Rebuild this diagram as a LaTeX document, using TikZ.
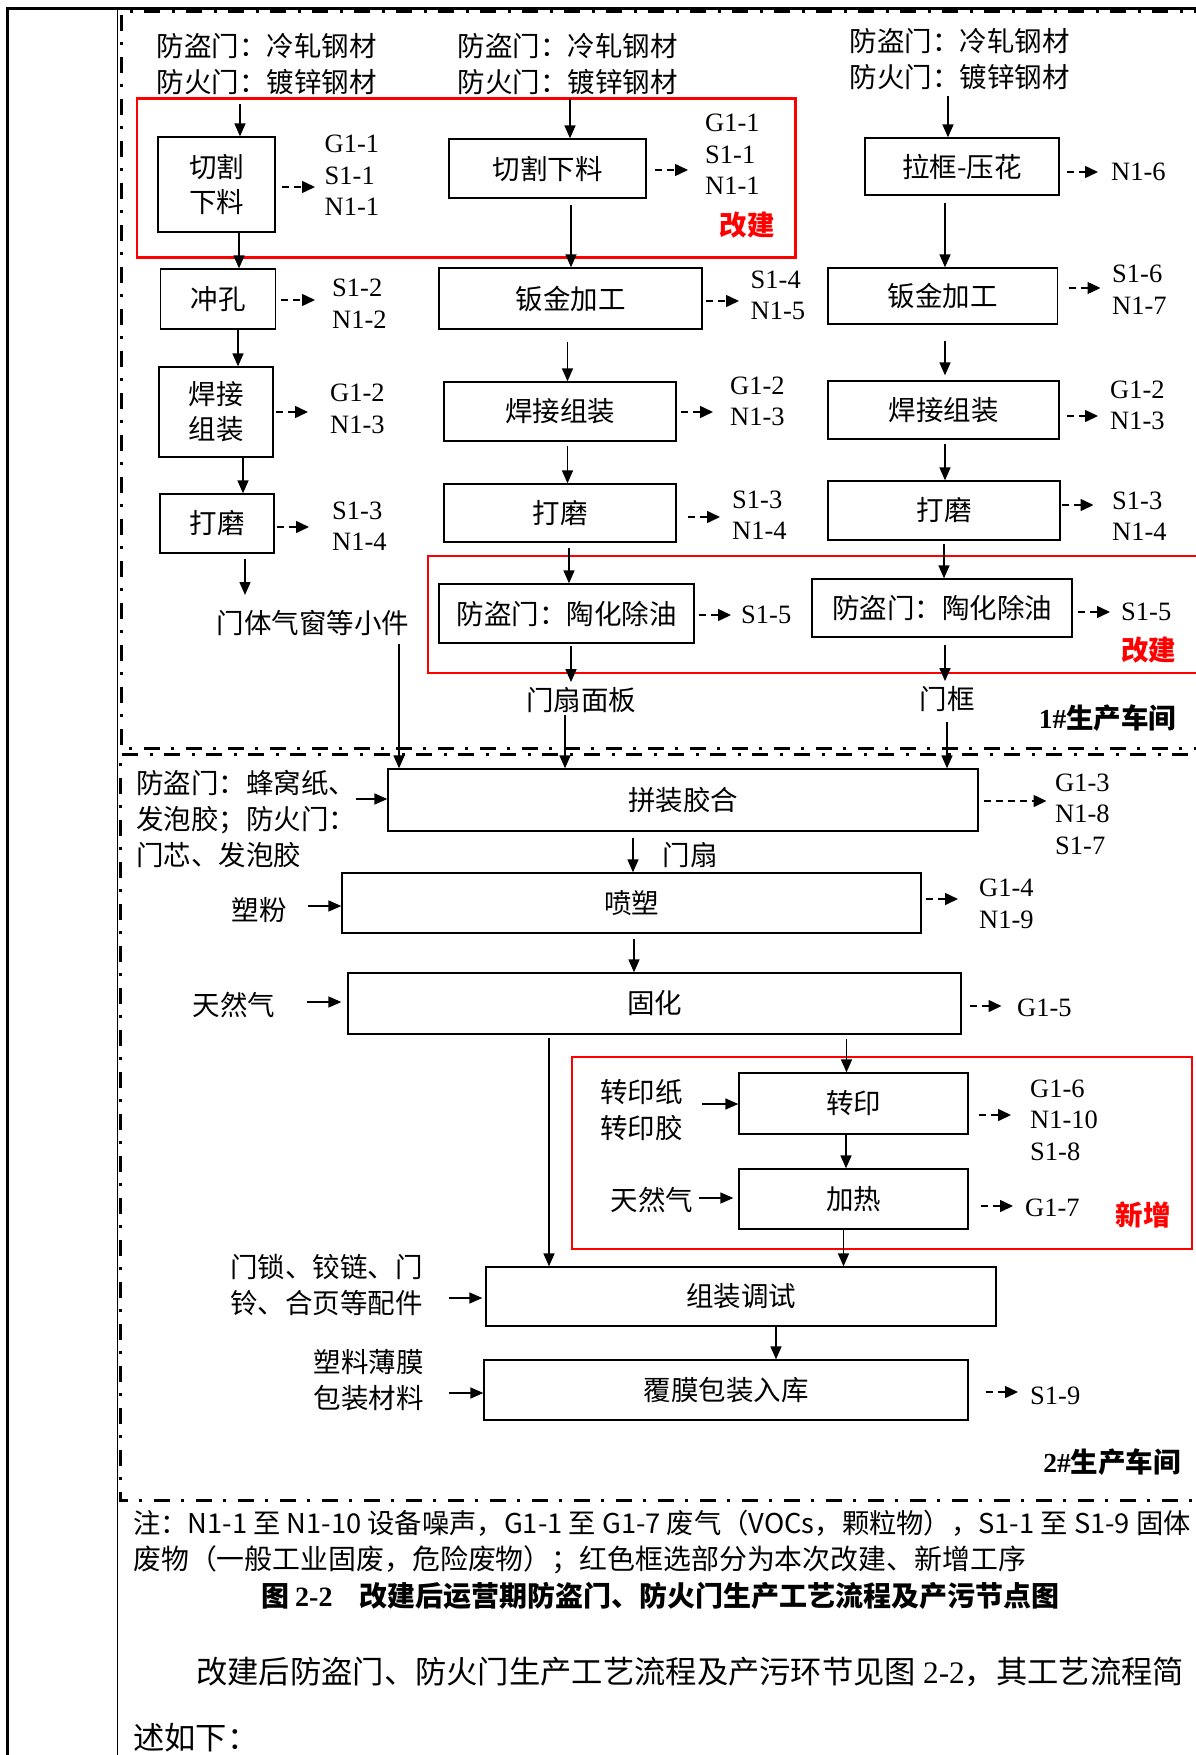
\documentclass[tikz,border=0pt]{standalone}
\usepackage{fontspec}
\setmainfont{Liberation Serif}
\newfontfamily\cjk{Noto Sans CJK SC}
\usetikzlibrary{arrows.meta}
\tikzset{
 box/.style={draw, line width=1.3pt, rectangle, inner sep=0pt, font=\cjk\fontsize{27.5}{35}\selectfont, align=center},
 arr/.style={line width=1.5pt, -{Triangle[length=13pt,width=11pt]}},
 darr/.style={line width=1.5pt, dash pattern=on 7pt off 5pt, -{Triangle[length=13pt,width=12pt]}},
 zh/.style={font=\cjk\fontsize{27.5}{36}\selectfont, inner sep=0pt, align=left},
 lab/.style={font=\fontsize{26.5}{31.5}\selectfont, inner sep=0pt, align=left, anchor=west},
 redbox/.style={draw=red, line width=2.5pt},
 redlab/.style={font=\cjk\bfseries\fontsize{27.5}{33}\selectfont, text=red, inner sep=0pt},
 ws/.style={line width=3pt, dash pattern=on 16pt off 11pt on 3pt off 12pt},
}
\begin{document}
\begin{tikzpicture}[x=1pt,y=-1pt]
\useasboundingbox (0,0) rectangle (1195,1755);
% outer table lines
\draw[line width=3pt] (6,9) -- (1200,9);
\draw[line width=2.5pt] (7.5,9) -- (7.5,1760);
\draw[line width=1.5pt] (117.5,9) -- (117.5,1760);
% workshop frames
\draw[ws] (1210,11.5) -- (121.5,11.5) -- (121.5,748.3) -- (1210,748.3);
\draw[ws, dash phase=20pt] (1210,754.3) -- (120,754.3) -- (120,1500) -- (1210,1500);
% red boxes
\draw[redbox] (137,98.3) rectangle (795.6,257.7);
\draw[redbox] (428,556) rectangle (1210,673);
\draw[redbox] (572,1057) rectangle (1192,1249);
\node[redlab] (r1) at (747,225) {改建};
\node[redlab] (r2) at (1148.5,650) {改建};
\node[redlab] (r3) at (1143,1215) {新增};
% top materials
\node[zh] (t1) at (266.5,64) {防盗门：冷轧钢材\\防火门：镀锌钢材};
\node[zh] (t2) at (567.5,64) {防盗门：冷轧钢材\\防火门：镀锌钢材};
\node[zh] (t3) at (959.5,59.5) {防盗门：冷轧钢材\\防火门：镀锌钢材};
% column 1
\node[box, minimum width=117pt, minimum height=95pt] (c1a) at (216.5,184.5) {切割\\下料};
\node[box, minimum width=114.5pt, minimum height=60pt] (c1b) at (218,299) {冲孔};
\node[box, minimum width=114pt, minimum height=90pt] (c1c) at (216,412) {焊接\\组装};
\node[box, minimum width=114pt, minimum height=59pt] (c1d) at (217,523.5) {打磨};
\node[zh] (l1) at (313,623) {门体气窗等小件};
\coordinate (p1) at (245,595);
% column 2
\node[box, minimum width=197pt, minimum height=59pt] (c2a) at (547.5,168.5) {切割下料};
\node[box, minimum width=263pt, minimum height=61pt] (c2b) at (570.5,298.5) {钣金加工};
\node[box, minimum width=232pt, minimum height=59pt] (c2c) at (560,411.5) {焊接组装};
\node[box, minimum width=232pt, minimum height=58pt] (c2d) at (560,513) {打磨};
\node[box, minimum width=255pt, minimum height=59pt] (c2e) at (566.5,613.5) {防盗门：陶化除油};
\node[zh] (l2) at (581,700) {门扇面板};
% column 3
\node[box, minimum width=194pt, minimum height=57pt] (c3a) at (962,166.5) {拉框-压花};
\node[box, minimum width=229.5pt, minimum height=56pt] (c3b) at (942.75,296) {钣金加工};
\node[box, minimum width=231pt, minimum height=58pt] (c3c) at (943.5,410) {焊接组装};
\node[box, minimum width=232pt, minimum height=59pt] (c3d) at (944,510.5) {打磨};
\node[box, minimum width=260pt, minimum height=58pt] (c3e) at (942,608) {防盗门：陶化除油};
\node[zh] (l3) at (947,699) {门框};
\node[font=\fontsize{27.5}{33}\selectfont, inner sep=0pt] (ws1) at (1107.5,718) {\bfseries 1\#{\cjk\bfseries 生产车间}};
% workshop 2
\node[box, minimum width=590pt, minimum height=62pt] (w2a) at (683,800) {拼装胶合};
\node[box, minimum width=579pt, minimum height=60pt] (w2b) at (631.5,903) {喷塑};
\node[box, minimum width=613pt, minimum height=61pt] (w2c) at (654.5,1003.5) {固化};
\node[box, minimum width=229pt, minimum height=61pt] (w2d) at (853.5,1103.5) {转印};
\node[box, minimum width=229pt, minimum height=60pt] (w2e) at (853.5,1199) {加热};
\node[box, minimum width=510pt, minimum height=59pt] (w2f) at (741,1296.5) {组装调试};
\node[box, minimum width=484pt, minimum height=60pt] (w2g) at (726,1390) {覆膜包装入库};
\node[zh] (l4) at (690,855) {门扇};
\node[font=\fontsize{27.5}{33}\selectfont, inner sep=0pt] (ws2) at (1112,1462) {\bfseries 2\#{\cjk\bfseries 生产车间}};
% inputs
\node[zh, anchor=west] (i1) at (136,819) {防盗门：蜂窝纸、\\发泡胶；防火门：\\门芯、发泡胶};
\node[zh] (i2) at (259,910) {塑粉};
\node[zh] (i3) at (234,1005) {天然气};
\node[zh, anchor=west] (i4) at (600,1110) {转印纸\\转印胶};
\node[zh] (i5) at (652,1200) {天然气};
\node[zh, anchor=east, align=right] (i6) at (423,1285) {门锁、铰链、门\\铃、合页等配件};
\node[zh, anchor=east, align=right] (i7) at (424,1380.5) {塑料薄膜\\包装材料};
% outputs
\node[lab] (o1a) at (324.5,175.5) {G1-1\\S1-1\\N1-1};
\node[lab] (o1b) at (332,303.5) {S1-2\\N1-2};
\node[lab] (o1c) at (330,409) {G1-2\\N1-3};
\node[lab] (o1d) at (332,526) {S1-3\\N1-4};
\node[lab] (o2a) at (705,154.5) {G1-1\\S1-1\\N1-1};
\node[lab] (o2b) at (750.5,295.5) {S1-4\\N1-5};
\node[lab] (o2c) at (730,401.5) {G1-2\\N1-3};
\node[lab] (o2d) at (732,515) {S1-3\\N1-4};
\node[lab] (o2e) at (741,615) {S1-5};
\node[lab] (o3a) at (1111,172) {N1-6};
\node[lab] (o3b) at (1112,289.5) {S1-6\\N1-7};
\node[lab] (o3c) at (1110,405.5) {G1-2\\N1-3};
\node[lab] (o3d) at (1112,516) {S1-3\\N1-4};
\node[lab] (o3e) at (1121,612) {S1-5};
\node[lab] (o4a) at (1055,814) {G1-3\\N1-8\\S1-7};
\node[lab] (o4b) at (979,904) {G1-4\\N1-9};
\node[lab] (o4c) at (1017,1008) {G1-5};
\node[lab] (o4d) at (1030,1120) {G1-6\\N1-10\\S1-8};
\node[lab] (o4e) at (1025,1208) {G1-7};
\node[lab] (o4f) at (1030,1396) {S1-9};
% vertical arrows column 1
\draw[arr, shorten <=9pt] (t1.south -| 240,0) -- (c1a.north -| 240,0);
\draw[arr] (c1a.south -| 239,0) -- (c1b.north -| 239,0);
\draw[arr] (c1b.south -| 238,0) -- (c1c.north -| 238,0);
\draw[arr] (c1c.south -| 243,0) -- (c1d.north -| 243,0);
\draw[arr, shorten <=5pt] (c1d.south -| 245,0) -- (p1);
\draw[arr, shorten <=8pt] (l1.south -| 399,0) -- (w2a.north -| 399,0);
% column 2
\draw[arr, shorten <=4pt] (t2.south -| 570,0) -- (c2a.north -| 570,0);
\draw[arr, shorten <=6pt] (c2a.south -| 571,0) -- (c2b.north -| 571,0);
\draw[arr, shorten <=12pt] (c2b.south -| 567.5,0) -- (c2c.north -| 567.5,0);
\draw[arr, shorten <=4pt] (c2c.south -| 567.5,0) -- (c2d.north -| 567.5,0);
\draw[arr, shorten <=5pt] (c2d.south -| 569,0) -- (c2e.north -| 569,0);
\draw[arr, shorten <=2pt, shorten >=5pt] (c2e.south -| 571,0) -- (l2.north -| 571,0);
\draw[arr, shorten <=2pt] (l2.south -| 565,0) -- (w2a.north -| 565,0);
% column 3
\draw[arr, shorten <=6pt] (t3.south -| 948,0) -- (c3a.north -| 948,0);
\draw[arr, shorten <=7pt] (c3a.south -| 945,0) -- (c3b.north -| 945,0);
\draw[arr, shorten <=16pt, shorten >=5pt] (c3b.south -| 945,0) -- (c3c.north -| 945,0);
\draw[arr, shorten <=4pt] (c3c.south -| 945,0) -- (c3d.north -| 945,0);
\draw[arr, shorten <=3pt] (c3d.south -| 944,0) -- (c3e.north -| 944,0);
\draw[arr, shorten <=7pt, shorten >=5pt] (c3e.south -| 945,0) -- (l3.north -| 945,0);
\draw[arr, shorten <=10pt] (l3.south -| 947,0) -- (w2a.north -| 947,0);
% workshop 2 vertical
\draw[arr, shorten <=6pt] (w2a.south -| 633,0) -- (w2b.north -| 633,0);
\draw[arr, shorten <=5pt] (w2b.south -| 634,0) -- (w2c.north -| 634,0);
\draw[arr, shorten <=4pt] (w2c.south -| 846.5,0) -- (w2d.north -| 846.5,0);
\draw[arr, shorten <=3pt] (w2c.south -| 549,0) -- (w2f.north -| 549,0);
\draw[arr] (w2d.south -| 846,0) -- (w2e.north -| 846,0);
\draw[arr] (w2e.south -| 843.5,0) -- (w2f.north -| 843.5,0);
\draw[arr] (w2f.south -| 776,0) -- (w2g.north -| 776,0);
% input arrows
\draw[arr] (i1.east |- 0,799) -- (w2a.west |- 0,799);
\draw[arr, shorten <=21.5pt] (i2.east |- 0,906) -- (w2b.west |- 0,906);
\draw[arr, shorten <=32pt, shorten >=6pt] (i3.east |- 0,1002) -- (w2c.west |- 0,1002);
\draw[arr, shorten <=19pt] (i4.east |- 0,1104) -- (w2d.west |- 0,1104);
\draw[arr, shorten <=6pt, shorten >=5pt] (i5.east |- 0,1198) -- (w2e.west |- 0,1198);
\draw[arr, shorten <=25.5pt, shorten >=3pt] (i6.east |- 0,1298) -- (w2f.west |- 0,1298);
\draw[arr, shorten <=24.5pt] (i7.east |- 0,1393) -- (w2g.west |- 0,1393);
% dashed output arrows
\draw[darr, shorten <=6pt, shorten >=9.5pt] (c1a.east |- 0,187) -- (o1a.west |- 0,187);
\draw[darr, shorten <=5.5pt, shorten >=17pt] (c1b.east |- 0,300) -- (o1b.west |- 0,300);
\draw[darr, shorten <=2pt, shorten >=22pt] (c1c.east |- 0,412) -- (o1c.west |- 0,412);
\draw[darr, shorten <=2pt, shorten >=23pt] (c1d.east |- 0,527) -- (o1d.west |- 0,527);
\draw[darr, shorten <=8pt, shorten >=17pt] (c2a.east |- 0,170) -- (o2a.west |- 0,170);
\draw[darr, shorten <=3pt, shorten >=11.5pt] (c2b.east |- 0,301) -- (o2b.west |- 0,301);
\draw[darr, shorten <=4pt, shorten >=17pt] (c2c.east |- 0,412) -- (o2c.west |- 0,412);
\draw[darr, shorten <=11pt, shorten >=12pt] (c2d.east |- 0,517) -- (o2d.west |- 0,517);
\draw[darr, shorten <=4pt, shorten >=10pt] (c2e.east |- 0,615) -- (o2e.west |- 0,615);
\draw[darr, shorten <=7pt, shorten >=13pt] (c3a.east |- 0,172) -- (o3a.west |- 0,172);
\draw[darr, shorten <=10.5pt, shorten >=11.5pt] (c3b.east |- 0,288) -- (o3b.west |- 0,288);
\draw[darr, shorten <=7pt, shorten >=12pt] (c3c.east |- 0,416) -- (o3c.west |- 0,416);
\draw[darr, shorten <=1pt, shorten >=18.5pt] (c3d.east |- 0,505) -- (o3d.west |- 0,505);
\draw[darr, shorten <=5pt, shorten >=11pt] (c3e.east |- 0,612) -- (o3e.west |- 0,612);
\draw[darr, shorten <=5pt, shorten >=8.5pt] (w2a.east |- 0,801) -- (o4a.west |- 0,801);
\draw[darr, shorten <=4pt, shorten >=21pt] (w2b.east |- 0,899) -- (o4b.west |- 0,899);
\draw[darr, shorten <=8pt, shorten >=15.5pt] (w2c.east |- 0,1006) -- (o4c.west |- 0,1006);
\draw[darr, shorten <=10pt, shorten >=19pt] (w2d.east |- 0,1115) -- (o4d.west |- 0,1115);
\draw[darr, shorten <=12pt, shorten >=12pt] (w2e.east |- 0,1206) -- (o4e.west |- 0,1206);
\draw[darr, shorten <=17pt, shorten >=12pt] (w2g.east |- 0,1392) -- (o4f.west |- 0,1392);
% notes, caption, paragraph
\node[zh, anchor=west, font=\cjk\fontsize{27.3}{32}\selectfont] (n1) at (133,1523) {注：N1-1 至 N1-10 设备噪声，G1-1 至 G1-7 废气（VOCs，颗粒物），S1-1 至 S1-9 固体};
\node[zh, anchor=west, font=\cjk\fontsize{27.9}{32}\selectfont] (n2) at (133,1560) {废物（一般工业固废，危险废物）；红色框选部分为本次改建、新增工序};
\node[inner sep=0pt, anchor=west, font=\cjk\bfseries\fontsize{28}{32}\selectfont] (cap) at (261,1596) {图\hspace{6pt}{\rmfamily\bfseries 2-2}\hspace{27pt}改建后运营期防盗门、防火门生产工艺流程及产污节点图};
\node[zh, anchor=west, font=\cjk\fontsize{31.3}{40}\selectfont] (p1a) at (196,1672) {改建后防盗门、防火门生产工艺流程及产污环节见图 {\rmfamily 2-2}，其工艺流程简};
\node[zh, anchor=west, font=\cjk\fontsize{31.3}{40}\selectfont] (p1b) at (133,1738) {述如下：};
\end{tikzpicture}
\end{document}
